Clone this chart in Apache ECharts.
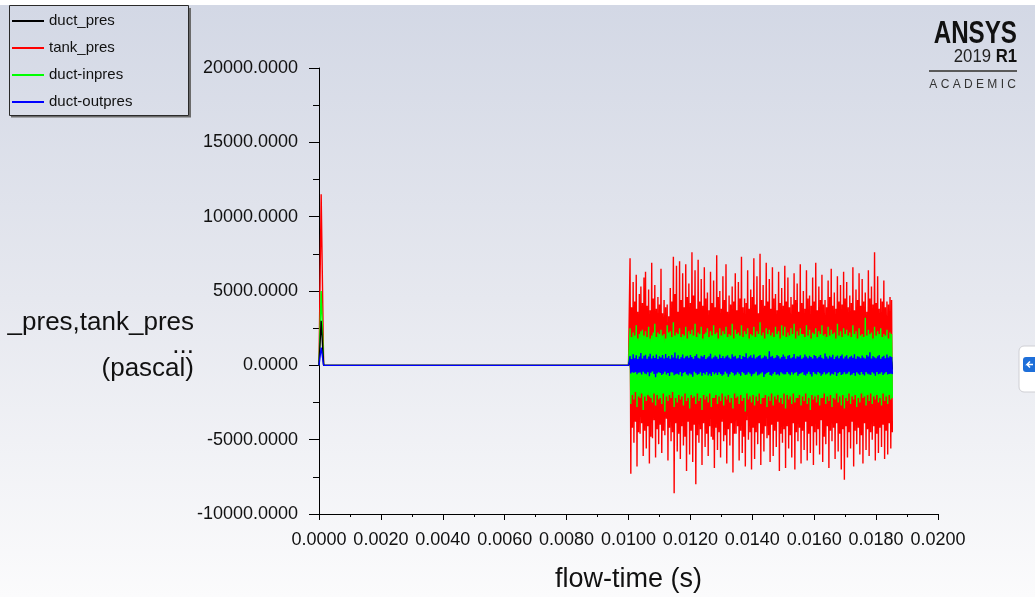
<!DOCTYPE html>
<html>
<head>
<meta charset="utf-8">
<script src="https://cdn.jsdelivr.net/npm/echarts@6/dist/echarts.min.js"></script>
<style>
  html, body { margin: 0; padding: 0; background: #ffffff; }
  #chart { width: 1035px; height: 597px; }
</style>
</head>
<body>
<div id="chart"></div>
<script>
// Monitor history: pressures (Pa) versus flow-time (s)
const seriesNames = ['duct_pres', 'tank_pres', 'duct-inpres', 'duct-outpres'];

// Start-up transient and the quiet stretch up to 0.0100 s
const startTimes   = [0, 0.00007, 0.00015, 0.0100];
const startDuct    = [0, 3000, 0, 0];
const startTank    = [0, 11500, 0, 0];
const startInlet   = [0, 5000, 0, 0];
const startOutlet  = [0, 1200, 0, 0];

// Oscillating stretch: samples every 2.5e-5 s from 0.01005 s to about 0.0185 s
const noiseStart = 0.01005;
const noiseStep = 0.000025;

const tankNoise = [
  7200,-7300, 3900,-4200, 5600,-5200, 4300,-3800, 6100,-6800, 3600,-4500, 4800,-4600, 5300,-3900, 4200,-6100, 5900,-4400,
  6300,-5600, 4000,-4100, 5100,-6600, 3700,-4800, 6900,-4900, 4500,-3700, 5400,-6200, 3800,-4300, 4600,-5300, 4100,-4000,
  6500,-5900, 3500,-4400, 4400,-4700, 3900,-3600, 4100,-6400, 3300,-4200, 5200,-5100, 4300,-4500, 7300,-8600, 4800,-3900,
  6700,-5800, 3600,-4600, 7000,-6300, 4400,-4100, 6200,-5400, 3900,-4800, 6800,-7100, 4600,-3800, 5500,-6000, 4200,-4400,
  7600,-6500, 4700,-4000, 6400,-8000, 3800,-4700, 7100,-5200, 4300,-4300, 5800,-6700, 4000,-3900, 6600,-5500, 4500,-4600,
  4900,-6100, 3700,-4100, 6300,-4800, 4200,-5000, 5700,-6900, 3900,-4200, 7400,-5700, 4600,-4500, 5000,-6200, 3800,-3800,
  6000,-5100, 4400,-4700, 6800,-6600, 3600,-4300, 4700,-5400, 4100,-3900, 5300,-7200, 4300,-4600, 6200,-4600, 3700,-4100,
  5600,-6400, 4500,-4400, 7300,-5900, 3900,-4800, 4500,-6800, 4200,-3700, 6400,-5000, 3800,-4500, 5100,-7000, 4600,-4200,
  7200,-6300, 4100,-4500, 6000,-5300, 3500,-3900, 7500,-6700, 4400,-4600, 5400,-5800, 4000,-4100, 6900,-4900, 4300,-4700,
  5800,-6500, 3800,-4000, 6600,-6100, 4500,-4400, 4800,-5500, 3700,-3800, 6300,-7100, 4200,-4600, 5200,-5200, 4000,-4300,
  6700,-6900, 4300,-4100, 5900,-5600, 3900,-4700, 4600,-6200, 4100,-3900, 6200,-7000, 4400,-4500, 5500,-5100, 3600,-4200,
  6800,-6600, 4200,-4400, 5000,-5700, 3800,-3800, 6400,-6400, 4500,-4600, 4700,-5900, 4000,-4100, 5900,-6700, 4300,-4500,
  6900,-5400, 3700,-4300, 5300,-6000, 4400,-3700, 6100,-6500, 4100,-4800, 4400,-5300, 3900,-4100, 5700,-6900, 4600,-4400,
  6500,-5100, 4000,-4200, 4900,-6300, 3800,-3900, 6000,-5800, 4300,-4600, 5400,-7000, 4100,-4300, 6300,-7700, 4500,-4100,
  5600,-6200, 3900,-4500, 4700,-5600, 4200,-3800, 6600,-6800, 3700,-4400, 5100,-5300, 4400,-4200, 6200,-6000, 4000,-4700,
  5800,-6600, 4300,-3900, 4900,-5700, 3600,-4300, 6400,-6100, 4500,-4500, 5300,-5000, 4100,-4100, 7600,-6400, 4200,-4600,
  6000,-5900, 3800,-4200, 4500,-5500, 4300,-4000, 5700,-6300, 3900,-4400, 4300,-6000, 4100,-3900, 4600,-5600, 4400,-4500
];

const inletNoise = [
  2500,-2600, 1900,-2000, 2200,-2300, 2000,-1800, 2700,-2800, 1800,-2100, 2100,-2200, 2300,-1900, 2400,-3000, 2000,-2100,
  2300,-2400, 1900,-2000, 2600,-2100, 1800,-2200, 2000,-2500, 2200,-1900, 2800,-2700, 1900,-2000, 2200,-2300, 2100,-2200,
  2400,-2600, 2000,-1900, 2100,-3100, 1800,-2100, 2700,-2400, 2200,-2000, 2300,-2200, 1900,-1800, 2900,-2800, 2000,-2200,
  2200,-2500, 2100,-2000, 2500,-2300, 1900,-2100, 2100,-2700, 2000,-1900, 2600,-2400, 1800,-2200, 2300,-2900, 2100,-2000,
  2400,-2200, 2000,-2100, 2800,-2600, 1900,-1900, 2200,-2400, 2100,-2200, 2600,-3000, 1800,-2000, 2100,-2300, 2200,-2100,
  2500,-2500, 1900,-1900, 2300,-2800, 2000,-2200, 2700,-2200, 2100,-2000, 2200,-2600, 1800,-2100, 2500,-2400, 2000,-1900,
  2300,-2700, 2100,-2100, 2600,-2300, 1900,-2000, 2100,-2500, 2000,-2200, 2800,-2900, 1800,-1900, 2400,-2200, 2100,-2100,
  2200,-2600, 2000,-2000, 2700,-2400, 1900,-2200, 2300,-3100, 2100,-1900, 2500,-2300, 1800,-2100, 2100,-2500, 2000,-2000,
  2600,-2700, 1900,-2100, 2300,-2400, 2100,-1900, 2900,-2600, 2000,-2200, 2200,-2200, 1800,-2000, 2500,-2800, 2100,-2100,
  2400,-2400, 2000,-1900, 2200,-2700, 1900,-2100, 2600,-2300, 2100,-2000, 2300,-2500, 1800,-2200, 2700,-2600, 2000,-1900,
  2600,-2900, 1900,-2000, 2200,-2300, 2000,-2100, 2500,-2600, 2100,-1900, 2800,-2500, 1800,-2200, 2300,-2200, 2000,-2000,
  2500,-2700, 2100,-2100, 2100,-2400, 1900,-1900, 2700,-2600, 2000,-2200, 2400,-3000, 1800,-2000, 2200,-2300, 2100,-2100,
  2500,-2500, 1900,-2000, 2300,-2700, 2100,-2200, 2700,-2200, 2000,-1900, 2100,-2600, 1900,-2100, 2600,-2400, 2000,-2000,
  2400,-2800, 2100,-2200, 2200,-2300, 1800,-1900, 2800,-2500, 2000,-2100, 2300,-2700, 1900,-2000, 2500,-2900, 2100,-2200,
  2400,-2400, 2000,-1900, 2200,-2600, 1900,-2100, 2700,-2300, 2100,-2000, 2300,-2800, 1800,-2200, 2500,-2500, 2000,-1900,
  2100,-2200, 1900,-2100, 3200,-2700, 2000,-2000, 2400,-2400, 2100,-1900, 2200,-2600, 1800,-2100, 2600,-2300, 2000,-2000,
  2300,-2500, 2100,-2200, 2500,-2700, 1900,-1900, 2100,-2400, 2000,-2100, 2400,-2600, 1800,-2000, 2200,-2300, 2100,-2200
];

const outletNoise = [
  620,-540, 420,-460, 750,-520, 480,-440, 680,-590, 430,-500, 590,-480, 820,-610, 450,-430, 640,-550,
  710,-600, 440,-470, 600,-730, 780,-500, 460,-420, 650,-580, 490,-800, 720,-540, 430,-470, 610,-520,
  530,-640, 690,-570, 450,-430, 760,-610, 500,-520, 620,-720, 440,-460, 700,-480, 520,-660, 860,-590,
  480,-560, 670,-630, 430,-450, 550,-740, 730,-510, 470,-440, 590,-600, 640,-680, 510,-550, 700,-620,
  560,-770, 440,-430, 620,-530, 740,-640, 500,-580, 460,-470, 650,-700, 580,-520, 690,-610, 430,-450,
  520,-680, 610,-560, 780,-720, 450,-440, 540,-600, 660,-490, 570,-650, 440,-460, 720,-580, 490,-700,
  630,-620, 470,-430, 600,-540, 680,-760, 530,-600, 440,-450, 750,-520, 580,-680, 640,-610, 460,-470,
  510,-560, 700,-700, 430,-440, 620,-530, 560,-650, 810,-620, 470,-460, 590,-570, 670,-740, 500,-600,
  720,-550, 450,-430, 550,-690, 630,-620, 700,-540, 460,-470, 520,-780, 660,-600, 590,-520, 440,-450,
  940,-650, 570,-700, 640,-560, 480,-440, 530,-630, 690,-600, 610,-680, 450,-460, 560,-540, 720,-620,
  600,-590, 430,-450, 650,-560, 700,-660, 480,-470, 540,-610, 760,-520, 460,-440, 610,-700, 580,-580,
  670,-530, 440,-460, 520,-640, 730,-690, 590,-560, 470,-430, 640,-600, 560,-750, 450,-450, 700,-570,
  620,-620, 480,-440, 570,-530, 690,-700, 510,-590, 440,-470, 800,-610, 600,-540, 460,-460, 650,-680,
  540,-560, 710,-620, 430,-450, 580,-710, 660,-530, 470,-440, 620,-650, 730,-590, 450,-470, 590,-600,
  680,-540, 460,-430, 560,-660, 640,-620, 500,-510, 740,-700, 440,-460, 610,-570, 570,-640, 470,-450,
  660,-590, 520,-680, 450,-440, 700,-560, 590,-620, 880,-640, 460,-470, 630,-550, 540,-700, 480,-440,
  610,-600, 690,-570, 440,-460, 570,-650, 650,-540, 470,-450, 720,-620, 530,-580, 620,-560, 560,-590
];

const ductNoise = [
  300,-280, 180,-200, 360,-250, 210,-190, 330,-290, 170,-220, 310,-230, 380,-300, 200,-180, 290,-260,
  340,-300, 190,-210, 300,-370, 350,-240, 220,-190, 310,-270, 230,-350, 330,-260, 180,-200, 290,-240,
  250,-310, 320,-280, 200,-190, 360,-290, 240,-250, 300,-340, 190,-210, 330,-230, 250,-310, 390,-280,
  230,-270, 320,-300, 180,-200, 260,-350, 340,-240, 210,-190, 280,-290, 300,-320, 240,-260, 330,-300,
  270,-360, 190,-180, 290,-250, 350,-300, 240,-280, 200,-210, 310,-330, 270,-250, 320,-290, 180,-190,
  250,-320, 290,-270, 370,-340, 210,-200, 260,-280, 310,-230, 270,-310, 190,-210, 340,-270, 230,-330,
  300,-290, 200,-180, 280,-260, 320,-360, 250,-280, 180,-200, 350,-250, 270,-320, 300,-290, 210,-190,
  240,-270, 330,-330, 190,-200, 290,-250, 260,-310, 380,-290, 220,-210, 280,-270, 310,-350, 240,-280,
  340,-260, 200,-190, 260,-320, 300,-290, 330,-260, 210,-200, 250,-370, 310,-280, 280,-250, 190,-210,
  420,-310, 270,-330, 300,-270, 220,-190, 250,-300, 320,-280, 290,-320, 200,-210, 260,-250, 340,-290,
  280,-280, 190,-200, 300,-270, 330,-310, 220,-210, 260,-290, 350,-250, 210,-190, 290,-330, 270,-270,
  310,-250, 200,-210, 250,-300, 340,-320, 280,-260, 220,-190, 300,-280, 260,-350, 210,-210, 330,-270,
  290,-290, 230,-200, 270,-250, 320,-330, 240,-280, 200,-220, 370,-290, 280,-250, 210,-210, 300,-320,
  250,-260, 330,-290, 190,-210, 270,-330, 310,-250, 220,-200, 290,-300, 340,-280, 210,-220, 280,-280,
  320,-250, 220,-200, 260,-310, 300,-290, 240,-240, 350,-330, 200,-210, 290,-270, 270,-300, 220,-210,
  310,-280, 240,-320, 210,-200, 330,-260, 280,-290, 400,-300, 220,-220, 300,-260, 250,-330, 230,-200,
  290,-280, 320,-270, 210,-220, 270,-310, 300,-250, 220,-210, 340,-290, 250,-270, 290,-260, 260,-280
];

const FONT = '"Liberation Sans", Arial, Helvetica, sans-serif';

function buildSeriesData(startValues, noiseValues) {
  const pts = startTimes.map((t, i) => [t, startValues[i]]);
  noiseValues.forEach((v, i) => pts.push([noiseStart + i * noiseStep, v]));
  return pts;
}

function lineSeries(name, color, z, startValues, noiseValues) {
  return {
    name: name,
    type: 'line',
    z: z,
    showSymbol: false,
    symbol: 'none',
    sampling: null,
    color: color,
    lineStyle: { color: color, width: 1.4 },
    data: buildSeriesData(startValues, noiseValues)
  };
}

const chart = echarts.init(document.getElementById('chart'), null, { renderer: 'canvas' });

const option = {
  animation: false,
  backgroundColor: new echarts.graphic.LinearGradient(0, 0, 0, 1, [
    { offset: 0, color: '#ffffff' },
    { offset: 0.0083, color: '#ffffff' },
    { offset: 0.0084, color: '#d3d8e5' },
    { offset: 0.5, color: '#e6e8ef' },
    { offset: 1, color: '#fbfbfc' }
  ]),
  grid: { left: 319, right: 97, top: 68, bottom: 83, containLabel: false, outerBoundsMode: 'none' },
  legend: {
    data: seriesNames,
    orient: 'vertical',
    left: 12,
    top: 13,
    padding: 0,
    itemGap: 11,
    itemWidth: 32,
    itemHeight: 2,
    icon: 'rect',
    selectedMode: false,
    textStyle: { fontSize: 15, color: '#111', lineHeight: 16, fontFamily: FONT }
  },
  xAxis: {
    type: 'value',
    min: 0,
    max: 0.02,
    interval: 0.002,
    name: 'flow-time (s)',
    nameLocation: 'middle',
    nameGap: 52,
    nameTextStyle: { fontSize: 27, color: '#111', fontFamily: FONT },
    axisLine: { show: true, onZero: false, lineStyle: { color: '#000', width: 1 } },
    axisTick: { show: true, length: 6, lineStyle: { color: '#000' } },
    minorTick: { show: true, splitNumber: 2, length: 3, lineStyle: { color: '#000' } },
    splitLine: { show: false },
    axisLabel: {
      formatter: v => v.toFixed(4),
      fontSize: 18, color: '#111', margin: 17, fontFamily: FONT
    }
  },
  yAxis: {
    type: 'value',
    min: -10000,
    max: 20000,
    interval: 5000,
    axisLine: { show: true, onZero: false, lineStyle: { color: '#000', width: 1 } },
    axisTick: { show: true, length: 10, lineStyle: { color: '#000' } },
    minorTick: { show: true, splitNumber: 2, length: 6, lineStyle: { color: '#000' } },
    splitLine: { show: false },
    axisLabel: {
      formatter: v => v.toFixed(4),
      fontSize: 18, color: '#111', margin: 21, fontFamily: FONT
    }
  },
  series: [
    lineSeries('duct_pres', '#000000', 4, startDuct, ductNoise),
    lineSeries('tank_pres', '#ff0000', 2, startTank, tankNoise),
    lineSeries('duct-inpres', '#00ff00', 3, startInlet, inletNoise),
    lineSeries('duct-outpres', '#0000ff', 5, startOutlet, outletNoise)
  ],
  graphic: [
    // legend frame with its drop shadow
    {
      type: 'polyline', silent: true, z: 10,
      shape: { points: [[190, 8], [190, 116.5], [11, 116.5]] },
      style: { fill: null, stroke: '#6b6b6b', lineWidth: 2 }
    },
    {
      type: 'rect', silent: true, z: 11,
      shape: { x: 9.5, y: 5.5, width: 179, height: 110 },
      style: { fill: null, stroke: '#2a2a2a', lineWidth: 1 }
    },
    // y-axis title
    {
      type: 'text', silent: true, z: 10,
      x: 194, y: 346,
      style: {
        text: '_pres,tank_pres\n...\n(pascal)',
        font: '26px ' + FONT,
        fill: '#111',
        textAlign: 'right',
        textVerticalAlign: 'middle',
        lineHeight: 23
      }
    },
    // product badge, top right
    {
      type: 'text', silent: true, z: 10,
      x: 1017, y: 34, scaleX: 0.78,
      style: {
        text: 'ANSYS',
        font: 'bold 31px ' + FONT,
        fill: '#111',
        textAlign: 'right',
        textVerticalAlign: 'middle'
      }
    },
    {
      type: 'text', silent: true, z: 10,
      x: 1017, y: 57, scaleX: 0.88,
      style: {
        text: '{n|2019 }{b|R1}',
        textAlign: 'right',
        textVerticalAlign: 'middle',
        rich: {
          n: { font: '19px ' + FONT, fill: '#222' },
          b: { font: 'bold 19px ' + FONT, fill: '#111' }
        }
      }
    },
    {
      type: 'line', silent: true, z: 10,
      shape: { x1: 929, y1: 71, x2: 1017, y2: 71 },
      style: { stroke: '#5a5a5a', lineWidth: 2 }
    },
    {
      type: 'text', silent: true, z: 10,
      x: 1016, y: 85,
      style: {
        text: 'A C A D E M I C',
        font: '12px ' + FONT,
        fill: '#333',
        textAlign: 'right',
        textVerticalAlign: 'middle'
      }
    },
    // side tab at the right edge
    {
      type: 'rect', silent: true, z: 10,
      shape: { x: 1019, y: 346, width: 30, height: 46, r: 5 },
      style: { fill: '#ffffff', stroke: '#cfcfd4', lineWidth: 1 }
    },
    {
      type: 'rect', silent: true, z: 11,
      shape: { x: 1023, y: 357, width: 15, height: 15, r: 3 },
      style: { fill: '#1e6fd9' }
    },
    {
      type: 'polyline', silent: true, z: 12,
      shape: { points: [[1033, 364.5], [1027, 364.5], [1030, 361.5], [1027, 364.5], [1030, 367.5]] },
      style: { fill: null, stroke: '#ffffff', lineWidth: 1.5 }
    }
  ]
};

chart.setOption(option);
</script>
</body>
</html>
